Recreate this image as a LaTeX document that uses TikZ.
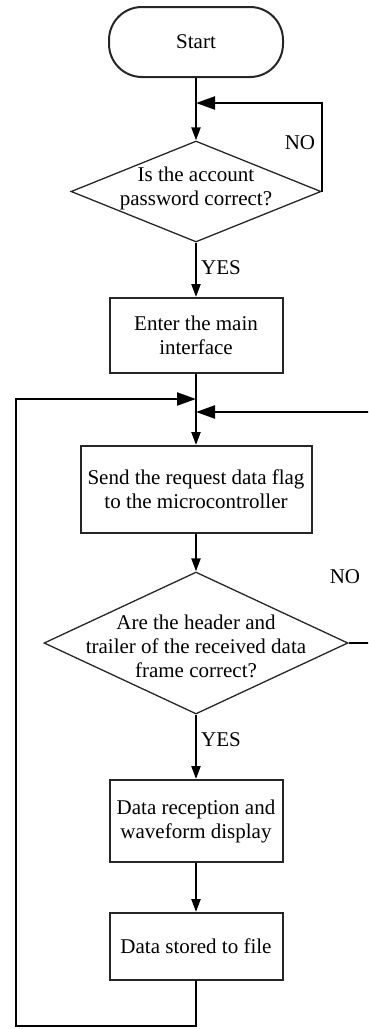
\documentclass[tikz,border=0pt]{standalone}
\usepackage{fontspec}
\setmainfont{Liberation Serif}
\usetikzlibrary{shapes.geometric,arrows.meta}
\begin{document}
\begin{tikzpicture}[x=1pt,y=-1pt,
  every node/.style={font=\fontsize{21}{24}\selectfont, text=black},
  procbox/.style={draw=black!85, line width=2pt, align=center, inner sep=0pt},
  termbox/.style={procbox, rounded corners=33pt},
  decbox/.style={shape=diamond, draw=black!85, line width=1.3pt, inner sep=0pt},
  txt/.style={align=center, inner sep=0pt},
  conn/.style={draw=black, line width=2.2pt},
  downtip/.style={conn, -{Triangle[length=13pt,width=9pt]}},
  sidetip/.style={conn, -{Triangle[length=19pt,width=13pt]}}
]
\useasboundingbox (0,0) rectangle (368,1029);
\clip (0,0) rectangle (368,1029);

% process steps
\node[termbox, minimum width=174pt, minimum height=70pt] (start) at (196,42) {Start};
\node[decbox, minimum width=250pt, minimum height=101pt] (d1) at (196,191.5) {};
\node[txt] (q1) at (196,188) {Is the account\\password correct?};
\node[procbox, minimum width=173pt, minimum height=75pt] (enter) at (196,335.5) {Enter the main\\interface};
\node[procbox, minimum width=231pt, minimum height=87pt] (send) at (196,489.5) {Send the request data flag\\to the microcontroller};
\node[decbox, minimum width=304pt, minimum height=142pt] (d2) at (196,643) {};
\node[txt] (q2) at (196,646) {Are the header and\\trailer of the received data\\frame correct?};
\node[procbox, minimum width=173pt, minimum height=82pt] (recv) at (196,821) {Data reception and\\waveform display};
\node[procbox, minimum width=173pt, minimum height=67pt] (store) at (196,946.5) {Data stored to file};

% branch labels
\node[txt] (no1) at (300,143) {NO};
\node[txt, anchor=west] (yes1) at (201,268) {YES};
\node[txt] (no2) at (345,577) {NO};
\node[txt, anchor=west] (yes2) at (201,740) {YES};

% junction points and loop corners
\coordinate (j1) at (196,103);
\coordinate (j2) at (196,399);
\coordinate (j3) at (196,412);
\coordinate (r1) at (d1.east |- j1);
\coordinate (b1) at (196,1026);
\coordinate (l1) at (16,1026);
\coordinate (l2) at (16,399);
\coordinate (r3) at (370,412);
\coordinate (r2) at (r3 |- d2.east);

% main flow
\draw[downtip] (start) -- (d1);
\draw[downtip] (d1) -- (enter);
\draw[downtip] (enter) -- (send);
\draw[downtip] (send) -- (d2);
\draw[downtip] (d2) -- (recv);
\draw[downtip] (recv) -- (store);

% loops
\draw[sidetip] (d1.east) -- (r1) -- (j1);
\draw[sidetip] (store.south) -- (b1) -- (l1) -- (l2) -- (j2);
\draw[sidetip] (d2.east) -- (r2) -- (r3) -- (j3);
\end{tikzpicture}
\end{document}
